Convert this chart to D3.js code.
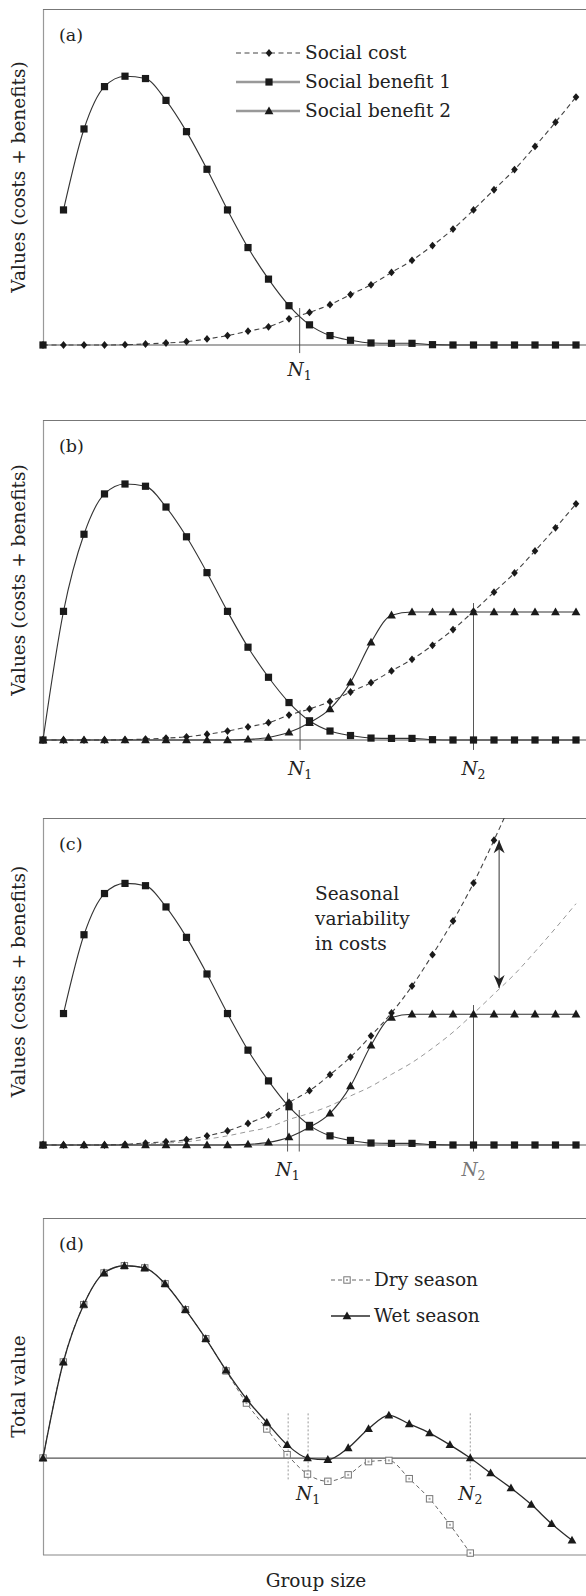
<!DOCTYPE html>
<html>
<head>
<meta charset="utf-8">
<script src="https://cdn.jsdelivr.net/npm/d3@7"></script>
<style>
  html, body { margin: 0; padding: 0; background: #fff; }
  svg { display: block; }
  text { font-family: "DejaVu Serif", serif; fill: #222; }
</style>
</head>
<body>
<script>
// ---------------- DATA ----------------
const groupSize = [0,1,2,3,4,5,6,7,8,9,10,11,12,13,14,15,16,17,18,19,20,21,22,23,24,25,26];
const socialCost = [0,0,0,0,0.1,0.3,0.6,1.0,1.8,2.8,4.1,5.4,7.8,9.7,12.0,15.0,17.9,21.6,25.2,29.6,34.5,40.2,46.2,52.2,59.1,66.3,73.8];
const socialCostHigh = [0,0,0,0,0.2,0.6,1.0,1.6,2.8,4.3,6.6,9.2,13.0,16.6,21.5,26.9,33.4,40.4,48.6,58.2,68.5,80.1,93.2,107];
const socialBenefit1 = [0,40.2,64.3,76.9,80.0,79.3,72.8,63.5,52.3,40.2,29.0,19.6,11.7,6.0,2.8,1.4,0.6,0.5,0.5,0.1,0,0,0,0,0,0,0];
const socialBenefit2 = [0,0,0,0,0,0,0,0,0,0,0.2,0.8,2.4,5.4,9.7,18.0,30.5,39.0,40,40,40,40,40,40,40,40,40];
const totalWet = [0,40,63.9,77.1,80.1,79.2,72.6,61.8,49.7,36.5,24.6,14.8,5.5,0,-0.7,4.2,12.2,17.8,14.2,10.4,5.5,0,-6.3,-12.5,-19.4,-27.4,-34.3];
const totalDry = [0,40,63.9,77.1,80.1,79.2,72.6,61.8,49.7,36.3,22.9,12.1,1.4,-6.7,-9.7,-7.0,-1.5,-1.0,-8.6,-17.0,-27.8,-39.6];

const panelLabels = ["(a)", "(b)", "(c)", "(d)"];
const legendABC = ["Social cost", "Social benefit 1", "Social benefit 2"];
const legendD = ["Dry season", "Wet season"];
const yLabelABC = "Values (costs + benefits)";
const yLabelD = "Total value";
const xLabel = "Group size";
const noteC = ["Seasonal", "variability", "in costs"];

// threshold lines: x (group size), top value, bottom value, label
const thresholdsA = [{x: 12.52, top: 11, bot: -2.4, label: "1"}];
const thresholdsB = [{x: 12.54, top: 9.4, bot: -3.1, label: "1"}, {x: 21, top: 42.8, bot: -3.1, label: "2"}];
const thresholdsC = [{x: 11.93, top: 16, bot: -2, label: "1"}, {x: 12.5, top: 10.7, bot: -2, label: null}, {x: 21, top: 42.8, bot: -2, label: "2", grey: true}];
const thresholdsD = [{x: 12.05, top: 18.6, bot: -9.2, label: null}, {x: 13.03, top: 18.6, bot: -9.2, label: "1"}, {x: 21, top: 18.6, bot: -9.2, label: "2"}];
const arrowC = {x: 22.25, top: 93.2, bot: 48};

// ---------------- LAYOUT ----------------
const W = 586, H = 1596;
const FS = 18.5;
const svg = d3.select("body").append("svg").attr("width", W).attr("height", H);
svg.append("rect").attr("width", W).attr("height", H).attr("fill", "#fff");
const defs = svg.append("defs");

const panels = [
  {key: "a", top: 9, bottom: 345, xEnd: 576, dom: [0, 100], labelY: 376},
  {key: "b", top: 420, bottom: 740, xEnd: 576, dom: [0, 100], labelY: 775},
  {key: "c", top: 818, bottom: 1145, xEnd: 576, dom: [0, 100], labelY: 1176},
  {key: "d", top: 1218, bottom: 1555, xEnd: 572, dom: [-40.4, 100], labelY: 1500}
];
const X0 = 43;

const sym = {
  square: g => g.append("rect").attr("x", -3.6).attr("y", -3.6).attr("width", 7.2).attr("height", 7.2).attr("fill", "#1a1a1a"),
  diamond: g => g.append("path").attr("d", "M0,-3.9L3.3,0L0,3.9L-3.3,0Z").attr("fill", "#1a1a1a"),
  triangle: g => g.append("path").attr("d", "M0,-4.6L4.4,3.2L-4.4,3.2Z").attr("fill", "#1a1a1a"),
  open: g => { g.append("rect").attr("x", -3.2).attr("y", -3.2).attr("width", 6.4).attr("height", 6.4)
                  .attr("fill", "#fff").attr("stroke", "#777").attr("stroke-width", 1);
               g.append("rect").attr("x", -1).attr("y", -1).attr("width", 2).attr("height", 2).attr("fill", "#aaa"); }
};

function drawSeries(g, x, y, values, opt) {
  const pts = values.map((v, i) => ({i: groupSize[i], v}));
  const line = d3.line()
    .defined(d => d.i >= (opt.start || 0))
    .x(d => x(d.i)).y(d => y(d.v))
    .curve(d3.curveMonotoneX);
  g.append("path").datum(pts).attr("d", line)
    .attr("fill", "none")
    .attr("stroke", opt.color || "#333")
    .attr("stroke-width", opt.width || 1.1)
    .attr("stroke-dasharray", opt.dash || null);
  if (opt.marker) {
    g.selectAll(null).data(pts).enter().append("g")
      .attr("transform", d => `translate(${x(d.i)},${y(d.v)})`)
      .each(function() { sym[opt.marker](d3.select(this)); });
  }
}

function nLabel(g, xp, yp, sub, grey) {
  const t = g.append("text").attr("x", xp).attr("y", yp).attr("text-anchor", "middle")
    .attr("font-size", FS).style("fill", grey ? "#777" : "#222");
  t.append("tspan").attr("font-style", "italic").text("N");
  t.append("tspan").attr("font-size", 12.5).attr("dy", 4).text(sub);
}

// arrowhead markers
defs.append("marker").attr("id", "barb").attr("viewBox", "-14 -6 16 12")
  .attr("refX", 0).attr("refY", 0).attr("markerWidth", 16).attr("markerHeight", 12)
  .attr("markerUnits", "userSpaceOnUse").attr("orient", "auto-start-reverse")
  .append("path").attr("d", "M0,0L-13,-5.5L-9,0L-13,5.5Z").attr("fill", "#222");

panels.forEach((p, pi) => {
  const x = d3.scaleLinear().domain([0, 26]).range([X0, p.xEnd]);
  const y = d3.scaleLinear().domain(p.dom).range([p.bottom, p.top]);
  const g = svg.append("g");

  defs.append("clipPath").attr("id", "clip-" + p.key)
    .append("rect").attr("x", 30).attr("y", p.top).attr("width", 600).attr("height", p.bottom - p.top + 30);

  // frame
  g.append("line").attr("x1", X0 + 0.5).attr("x2", X0 + 0.5).attr("y1", p.top).attr("y2", p.bottom)
    .attr("stroke", "#999").attr("stroke-width", 1.2);
  g.append("line").attr("x1", X0).attr("x2", W).attr("y1", p.top + 0.5).attr("y2", p.top + 0.5)
    .attr("stroke", "#777").attr("stroke-width", 1.2);
  if (p.key === "d") {
    g.append("line").attr("x1", X0).attr("x2", W).attr("y1", p.bottom).attr("y2", p.bottom)
      .attr("stroke", "#888").attr("stroke-width", 1.2);
  }
  g.append("line").attr("x1", X0).attr("x2", W).attr("y1", y(0)).attr("y2", y(0))
    .attr("stroke", "#555").attr("stroke-width", 1.2);

  // panel label
  g.append("text").attr("x", 59).attr("y", p.top + 32).attr("font-size", 17.5).text(panelLabels[pi]);

  // y label
  g.append("text").attr("transform", `translate(24.5,${(p.top + p.bottom) / 2}) rotate(-90)`)
    .attr("text-anchor", "middle").attr("font-size", FS)
    .text(p.key === "d" ? yLabelD : yLabelABC);

  const th = {a: thresholdsA, b: thresholdsB, c: thresholdsC, d: thresholdsD}[p.key];
  th.forEach(t => {
    g.append("line").attr("x1", x(t.x)).attr("x2", x(t.x)).attr("y1", y(t.top)).attr("y2", y(t.bot))
      .attr("stroke", p.key === "d" ? "#999" : "#444")
      .attr("stroke-width", p.key === "d" ? 1 : 0.9)
      .attr("stroke-dasharray", p.key === "d" ? "2,2" : null);
    if (t.label) nLabel(g, x(t.x), p.labelY, t.label, t.grey);
  });

  const pg = g.append("g").attr("clip-path", `url(#clip-${p.key})`);

  if (p.key === "d") {
    drawSeries(pg, x, y, totalDry, {marker: "open", dash: "4,3", color: "#666", width: 1});
    drawSeries(pg, x, y, totalWet, {marker: "triangle", color: "#2a2a2a", width: 1.3});
  } else {
    if (p.key === "c") {
      drawSeries(pg, x, y, socialCost, {dash: "5,4", color: "#999", width: 1});
      drawSeries(pg, x, y, socialCostHigh, {marker: "diamond", dash: "5,3.5", color: "#444"});
    } else {
      drawSeries(pg, x, y, socialCost, {marker: "diamond", dash: "5,3.5", color: "#444"});
    }
    if (p.key !== "a") drawSeries(pg, x, y, socialBenefit2, {marker: "triangle", color: "#333"});
    drawSeries(pg, x, y, socialBenefit1, {marker: "square", color: "#333", start: p.key === "b" ? 0 : 1});
  }

  // legends
  if (p.key === "a") {
    const lg = g.append("g");
    legendABC.forEach((name, k) => {
      const ly = 53 + k * 29;
      lg.append("line").attr("x1", 236).attr("x2", 300).attr("y1", ly).attr("y2", ly)
        .attr("stroke", k === 0 ? "#444" : "#999")
        .attr("stroke-width", k === 0 ? 1.1 : 2.6)
        .attr("stroke-dasharray", k === 0 ? "5,3.5" : null);
      const mg = lg.append("g").attr("transform", `translate(269,${ly})`);
      sym[["diamond", "square", "triangle"][k]](mg);
      lg.append("text").attr("x", 305).attr("y", ly + 6).attr("font-size", FS).text(name);
    });
  }
  if (p.key === "c") {
    g.append("line").attr("x1", x(arrowC.x)).attr("x2", x(arrowC.x))
      .attr("y1", y(arrowC.top)).attr("y2", y(arrowC.bot))
      .attr("stroke", "#444").attr("stroke-width", 1.1)
      .attr("marker-start", "url(#barb)").attr("marker-end", "url(#barb)");
    noteC.forEach((s, k) => {
      g.append("text").attr("x", 315).attr("y", 900 + k * 25).attr("font-size", FS).text(s);
    });
  }
  if (p.key === "d") {
    const lg = g.append("g");
    legendD.forEach((name, k) => {
      const ly = 1280 + k * 36;
      lg.append("line").attr("x1", 331).attr("x2", 370).attr("y1", ly).attr("y2", ly)
        .attr("stroke", k === 0 ? "#666" : "#2a2a2a")
        .attr("stroke-width", k === 0 ? 1 : 1.3)
        .attr("stroke-dasharray", k === 0 ? "4,3" : null);
      const mg = lg.append("g").attr("transform", `translate(347,${ly})`);
      sym[k === 0 ? "open" : "triangle"](mg);
      lg.append("text").attr("x", 374).attr("y", ly + 6).attr("font-size", FS).text(name);
    });
    g.append("text").attr("x", 316).attr("y", 1587).attr("text-anchor", "middle")
      .attr("font-size", FS).text(xLabel);
  }
});
</script>
</body>
</html>
